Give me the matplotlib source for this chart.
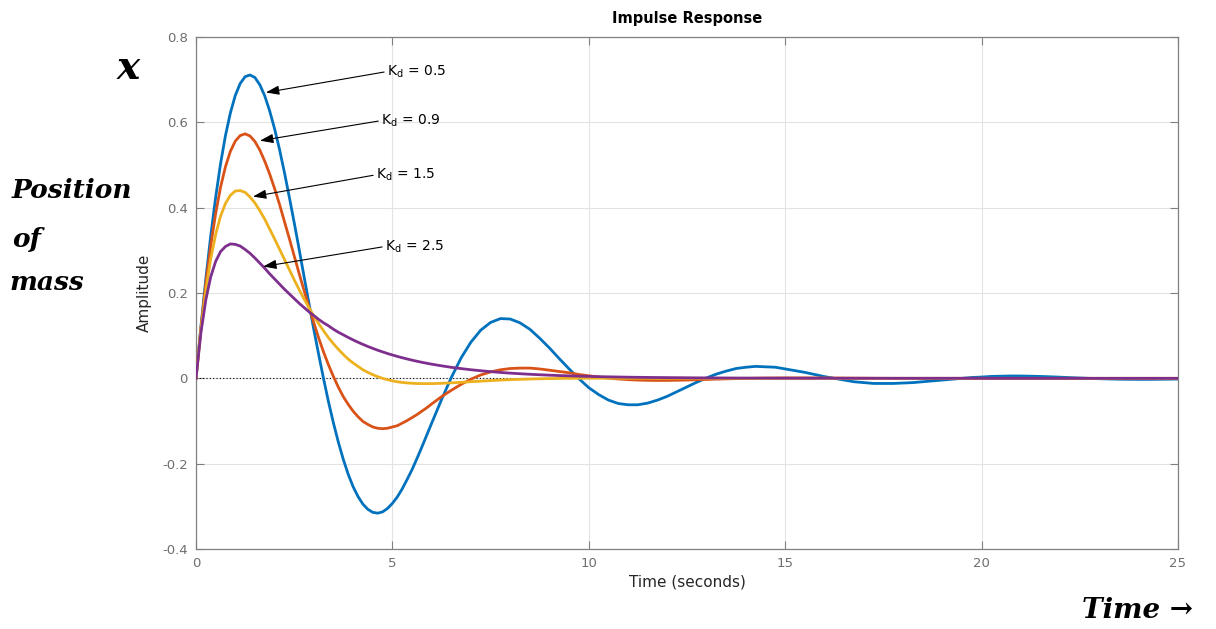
import numpy as np
import matplotlib
matplotlib.use("Agg")
import matplotlib.pyplot as plt

# ---- data ----
# sample times: 0.125 s steps up to 6 s, then 0.25 s steps to 25 s
time = np.concatenate([np.linspace(0, 6, 49), np.linspace(6.25, 25, 76)])

kd_05 = [0, 0.121, 0.233, 0.334, 0.424, 0.503, 0.569, 0.622, 0.663, 0.691,
         0.707, 0.711, 0.705, 0.688, 0.662, 0.627, 0.585, 0.537, 0.483, 0.425,
         0.365, 0.303, 0.239, 0.176, 0.114, 0.055, -0.002, -0.056, -0.105, -0.150,
         -0.190, -0.225, -0.254, -0.277, -0.295, -0.307, -0.314, -0.316, -0.313, -0.305,
         -0.293, -0.278, -0.259, -0.237, -0.214, -0.188, -0.161, -0.133, -0.105,
         -0.050, 0.002, 0.048, 0.085, 0.113,
         0.131, 0.140, 0.139, 0.130, 0.115, 0.094, 0.071, 0.046, 0.022, -0.001,
         -0.022, -0.038, -0.051, -0.059, -0.062, -0.062, -0.058, -0.051, -0.042, -0.031,
         -0.020, -0.009, 0.001, 0.010, 0.017, 0.023, 0.026, 0.028, 0.027, 0.026,
         0.022, 0.018, 0.014, 0.009, 0.004, 0.000, -0.004, -0.008, -0.010, -0.012,
         -0.012, -0.012, -0.011, -0.010, -0.008, -0.006, -0.004, -0.002, 0.000, 0.002,
         0.003, 0.0045, 0.005, 0.0055, 0.0054, 0.005, 0.0044, 0.0036, 0.0027, 0.0017,
         0.0008, -0.0001, -0.0009, -0.0015, -0.0020, -0.0023, -0.0024, -0.0024, -0.0022, -0.0020,
         -0.0016]

kd_09 = [0, 0.118, 0.222, 0.311, 0.386, 0.448, 0.496, 0.532, 0.556, 0.569,
         0.573, 0.568, 0.555, 0.535, 0.509, 0.479, 0.445, 0.408, 0.368, 0.328,
         0.287, 0.246, 0.206, 0.167, 0.130, 0.094, 0.061, 0.031, 0.004, -0.021,
         -0.043, -0.061, -0.077, -0.090, -0.101, -0.108, -0.114, -0.117, -0.118, -0.117,
         -0.114, -0.111, -0.105, -0.099, -0.092, -0.085, -0.077, -0.069, -0.060,
         -0.043, -0.028, -0.014, -0.002, 0.008,
         0.015, 0.020, 0.023, 0.024, 0.024, 0.022, 0.019, 0.016, 0.013, 0.009,
         0.006, 0.003, 0.0005, -0.0015, -0.0031, -0.0041, -0.0047, -0.0050, -0.0049, -0.0045,
         -0.0040, -0.0033, -0.0026, -0.0019, -0.0013, -0.0007, -0.0001, 0.0003, 0.0006, 0.0008,
         0.0010, 0.0010, 0.0010, 0.0009, 0.0008, 0.0007, 0.0006, 0.0004, 0.0003, 0.0001] + [0.0] * 31

kd_15 = [0, 0.114, 0.206, 0.280, 0.337, 0.380, 0.410, 0.429, 0.439, 0.440,
         0.436, 0.425, 0.411, 0.393, 0.373, 0.350, 0.327, 0.303, 0.279, 0.255,
         0.231, 0.208, 0.186, 0.166, 0.146, 0.128, 0.111, 0.095, 0.081, 0.068,
         0.056, 0.045, 0.036, 0.028, 0.020, 0.014, 0.0085, 0.0039, 0.000, -0.0032,
         -0.0059, -0.0080, -0.0096, -0.0108, -0.0116, -0.0122, -0.0124, -0.0125, -0.0124,
         -0.0117, -0.0106, -0.0093, -0.0079, -0.0066,
         -0.0053, -0.0041, -0.0031, -0.0023, -0.0016, -0.0010, -0.0006, -0.0002, 0.0000, 0.0002,
         0.0003, 0.0003, 0.0003, 0.0003, 0.0002, 0.0002, 0.0002, 0.0001, 0.0001, 0.0001] + [0.0] * 51

kd_25 = [0, 0.107, 0.184, 0.238, 0.274, 0.297, 0.309, 0.315, 0.314, 0.310,
         0.302, 0.293, 0.282, 0.270, 0.258, 0.245, 0.233, 0.221, 0.209, 0.198,
         0.187, 0.176, 0.166, 0.156, 0.147, 0.138, 0.130, 0.123, 0.115, 0.108,
         0.102, 0.0958, 0.090, 0.0846, 0.0795, 0.0747, 0.0702, 0.0659, 0.0620, 0.0582,
         0.0547, 0.0514, 0.0483, 0.0454, 0.0426, 0.0400, 0.0376, 0.0353, 0.0332,
         0.0293, 0.0258, 0.0228, 0.0201, 0.0178,
         0.0157, 0.0138, 0.0122, 0.0108, 0.0095, 0.0084, 0.0074, 0.0065, 0.0058, 0.0051,
         0.0045, 0.0040, 0.0035, 0.0031, 0.0027, 0.0024, 0.0021, 0.0019, 0.0017, 0.0015,
         0.0013, 0.0011, 0.0010, 0.0009, 0.0008, 0.0007, 0.0006, 0.0005, 0.0005, 0.0004,
         0.0004, 0.0003, 0.0003, 0.0003, 0.0003, 0.0002, 0.0002, 0.0002, 0.0002, 0.0002,
         0.0002] + [0.0001] * 10 + [0.0] * 20

labels = ["0.5", "0.9", "1.5", "2.5"]
series = [kd_05, kd_09, kd_15, kd_25]
colors = ["#0072BD", "#D95319", "#EDB120", "#7E2F8E"]

# annotation anchors: (arrow tip t, tip y, text t, text y)
ann_tip_t = [1.78, 1.63, 1.45, 1.71]
ann_tip_y = [0.670, 0.557, 0.426, 0.262]
ann_txt_t = [4.86, 4.71, 4.58, 4.81]
ann_txt_y = [0.719, 0.604, 0.477, 0.309]

xticks = [0, 5, 10, 15, 20, 25]
yticks = [-0.4, -0.2, 0, 0.2, 0.4, 0.6, 0.8]

# ---- figure ----
W, H = 1216, 629
fig = plt.figure(figsize=(W / 100, H / 100), dpi=100)
ax = fig.add_axes([196 / W, 1 - 549 / H, (1178 - 196) / W, (549 - 37) / H])

ax.axhline(0, ls=(0, (1, 2)), color="black", lw=0.8, zorder=1)
for y, c in zip(series, colors):
    ax.plot(time, y, color=c, lw=2.0, zorder=3, solid_joinstyle="round")

ax.set_xlim(0, 25)
ax.set_ylim(-0.4, 0.8)
ax.set_xticks(xticks)
ax.set_yticks(yticks)
ax.set_xticklabels([f"{v:g}" for v in xticks])
ax.set_yticklabels([f"{v:g}" for v in yticks])

gray = "#808080"
for s in ax.spines.values():
    s.set_color(gray)
    s.set_linewidth(0.9)
ax.tick_params(direction="in", length=6, width=0.8, colors=gray,
               labelcolor="#6e6e6e", labelsize=9.5, top=True, right=True, pad=6)
ax.grid(True, color="#e3e3e3", lw=0.8)
ax.set_axisbelow(True)

ax.set_title("Impulse Response", fontsize=10.5, fontweight="bold", pad=10)
ax.set_xlabel("Time (seconds)", fontsize=11, color="#262626", labelpad=3)
ax.set_ylabel("Amplitude", fontsize=11, color="#262626", labelpad=7)

for lab, tt, ty, xt, yt in zip(labels, ann_tip_t, ann_tip_y, ann_txt_t, ann_txt_y):
    ax.annotate(r"K$_{\rm d}$ = " + lab, xy=(tt, ty), xytext=(xt, yt),
                fontsize=10, ha="left", va="center", zorder=5,
                arrowprops=dict(arrowstyle="-|>,head_length=0.8,head_width=0.28",
                                color="black", lw=0.8, shrinkA=0, shrinkB=0,
                                relpos=(0, 0.5)))

# handwritten-style notes
hand = dict(family="DejaVu Serif", style="italic", weight="bold", color="black")
fig.text(128 / W, 1 - 68 / H, "x", fontsize=28, ha="center", va="center", **hand)
fig.text(12 / W, 1 - 190 / H, "Position", fontsize=19, ha="left", va="center", **hand)
fig.text(12 / W, 1 - 240 / H, "of", fontsize=19, ha="left", va="center", **hand)
fig.text(10 / W, 1 - 282 / H, "mass", fontsize=19, ha="left", va="center", **hand)
fig.text(1138 / W, 1 - 610 / H, "Time →", fontsize=20, ha="center", va="center", **hand)

fig.savefig("out.png", dpi=100)
